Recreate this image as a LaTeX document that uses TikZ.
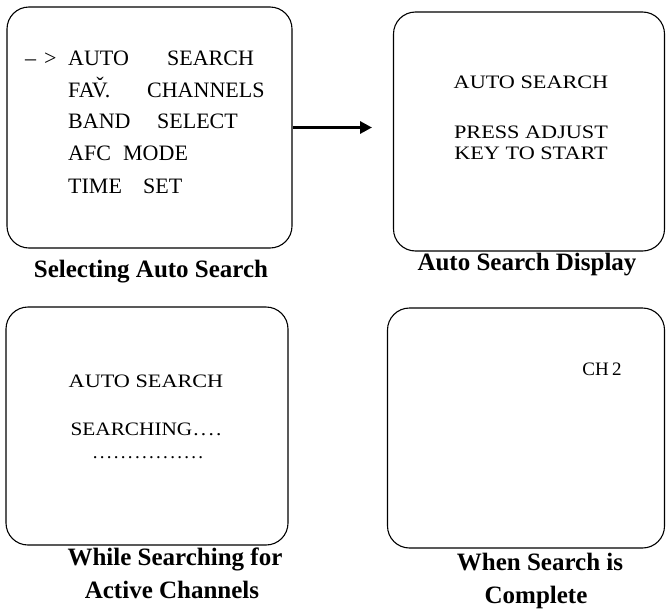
\documentclass[tikz,border=0pt]{standalone}
\usepackage{fontspec}
\usepackage{graphicx}
\setmainfont{Liberation Serif}
\usetikzlibrary{arrows.meta}
\newcommand{\dotrow}{.\kern2.3pt.\kern2.3pt.\kern2.3pt.\kern2.3pt.\kern2.3pt.\kern2.3pt.\kern2.3pt.\kern2.3pt.\kern2.3pt.\kern2.3pt.\kern2.3pt.\kern2.3pt.\kern2.3pt.\kern2.3pt.\kern2.3pt.}
\begin{document}
\begin{tikzpicture}[x=1pt,y=-1pt,
  screen/.style={draw, line width=1.1pt, rounded corners=22pt, inner sep=0pt},
  menu/.style={anchor=base west, inner sep=0pt, font=\fontsize{22}{26}\selectfont},
  disp/.style={anchor=base, inner sep=0pt, font=\fontsize{19}{23}\selectfont},
  capt/.style={anchor=base, inner sep=0pt, font=\fontsize{25}{29}\selectfont\bfseries},
  flow/.style={line width=3pt, -{Triangle[length=12pt,width=12pt]}}]
\useasboundingbox (0,0) rectangle (666,608);

% screens
\node[screen, minimum width=285pt, minimum height=241pt] (s1) at (149.5,127.5) {};
\node[screen, minimum width=271pt, minimum height=239pt] (s2) at (529,131.5) {};
\node[screen, minimum width=282pt, minimum height=238pt] (s3) at (147,426) {};
\node[screen, minimum width=277pt, minimum height=240pt] (s4) at (526,428) {};

% menu screen
\node[menu] (cur) at (25,65) {–\hspace{8pt}>};
\node[menu] (m1) at (68,65) {\makebox[99pt][l]{AUTO}SEARCH};
\node[menu] (m2) at (68,97) {\makebox[79pt][l]{FA\v{V}.}CHANNELS};
\node[menu] (m3) at (68,128) {\makebox[89pt][l]{BAND}SELECT};
\node[menu] (m4) at (68,160) {\makebox[55pt][l]{AFC}MODE};
\node[menu] (m5) at (68,193) {\makebox[75pt][l]{TIME}SET};

% arrow
\coordinate (aend) at (372,127.5);
\draw[flow] (s1.east) -- (aend);

% display screen
\node[disp] (d1) at (531,88) {\scalebox{1.17}[1]{AUTO SEARCH}};
\node[disp] (d2) at (531,138) {\scalebox{1.17}[1]{PRESS ADJUST}};
\node[disp] (d3) at (531,159) {\scalebox{1.17}[1]{KEY TO START}};

% searching screen
\node[disp] (e1) at (146,387) {\scalebox{1.17}[1]{AUTO SEARCH}};
\node[disp] (e2) at (146,435) {\scalebox{1.12}[1]{SEARCHING\kern1pt.\kern2pt.\kern2pt.\kern2pt.}};
\node[disp] (e3) at (148,458) {\dotrow};

% complete screen
\node[disp] (c1) at (602,375) {CH\,2};

% captions
\node[capt] (t1) at (151,277) {Selecting Auto Search};
\node[capt] (t2) at (527,270) {Auto Search Display};
\node[capt] (t3) at (175,565) {While Searching for};
\node[capt] (t4) at (172,598) {Active Channels};
\node[capt] (t5) at (540,570) {When Search is};
\node[capt] (t6) at (536,603) {Complete};
\end{tikzpicture}
\end{document}
